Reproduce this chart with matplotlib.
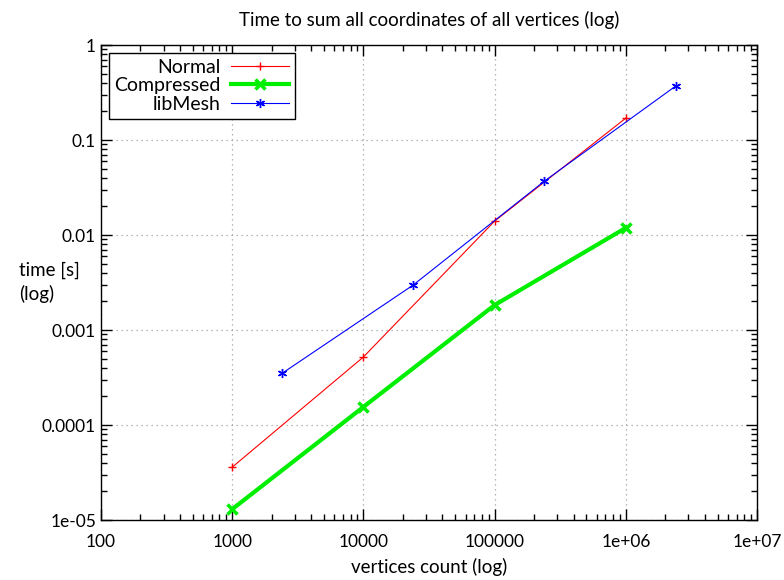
import matplotlib.pyplot as plt
from matplotlib.ticker import LogLocator, FixedFormatter, FixedLocator

plt.rcParams['font.family'] = ['Lato', 'DejaVu Sans']

# Data
normal_x = [1000, 10000, 100000, 1000000]
normal_y = [3.6e-5, 5.2e-4, 0.014, 0.17]

compressed_x = [1000, 10000, 100000, 1000000]
compressed_y = [1.3e-5, 1.55e-4, 1.83e-3, 0.0119]

libmesh_x = [2400, 24000, 240000, 2400000]
libmesh_y = [3.5e-4, 2.98e-3, 0.037, 0.37]

x_ticks = [100, 1000, 10000, 100000, 1e6, 1e7]
x_labels = ['100', '1000', '10000', '100000', '1e+06', '1e+07']
y_ticks = [1e-5, 1e-4, 1e-3, 1e-2, 0.1, 1]
y_labels = ['1e-05', '0.0001', '0.001', '0.01', '0.1', '1']

fig = plt.figure(figsize=(7.84, 5.8), dpi=100)
ax = fig.add_axes([0.1288, 0.1034, 0.8368, 0.8190])

ax.plot(normal_x, normal_y, c='#ff0000', lw=0.8, marker='+', ms=6, mew=1.0, label='Normal')
ax.plot(compressed_x, compressed_y, c='#00ee00', lw=3, marker='x', ms=7, mew=2.5, label='Compressed')
ax.plot(libmesh_x, libmesh_y, c='#0000ff', lw=0.8, marker=(6, 2, 0), ms=6.5, mew=1.0, label='libMesh')

ax.set_xscale('log')
ax.set_yscale('log')
ax.set_xlim(100, 1e7)
ax.set_ylim(1e-5, 1)

ax.xaxis.set_major_locator(FixedLocator(x_ticks))
ax.xaxis.set_major_formatter(FixedFormatter(x_labels))
ax.yaxis.set_major_locator(FixedLocator(y_ticks))
ax.yaxis.set_major_formatter(FixedFormatter(y_labels))
ax.xaxis.set_minor_locator(LogLocator(base=10, subs=range(2, 10), numticks=20))
ax.yaxis.set_minor_locator(LogLocator(base=10, subs=range(2, 10), numticks=20))
ax.yaxis.set_minor_formatter(FixedFormatter([]))
ax.xaxis.set_minor_formatter(FixedFormatter([]))

ax.tick_params(which='both', direction='in', top=True, right=True, labelsize=12.5)
ax.tick_params(which='major', length=8, width=1)
ax.tick_params(which='minor', length=4, width=1)
ax.tick_params(axis='x', pad=10)

ax.grid(True, which='major', ls=(0, (1, 3)), c='#a0a0a0', lw=0.9)

ax.set_title('Time to sum all coordinates of all vertices (log)', fontsize=13.5, pad=14)
ax.set_xlabel('vertices count (log)', fontsize=13.5, labelpad=6)
ax.text(-0.125, 0.5, 'time [s]\n(log)', transform=ax.transAxes, fontsize=13.5,
        ha='left', va='center', linespacing=1.4)

leg = ax.legend(loc='upper left', markerfirst=False, fontsize=14, fancybox=False,
                edgecolor='black', framealpha=1, borderpad=0.3, labelspacing=0.08,
                handlelength=3.0, handletextpad=0.5, borderaxespad=0.4)
for t in leg.get_texts():
    t.set_ha('right')
leg.get_frame().set_linewidth(1.0)

for s in ax.spines.values():
    s.set_linewidth(1.0)

fig.savefig('out.png', dpi=100)
